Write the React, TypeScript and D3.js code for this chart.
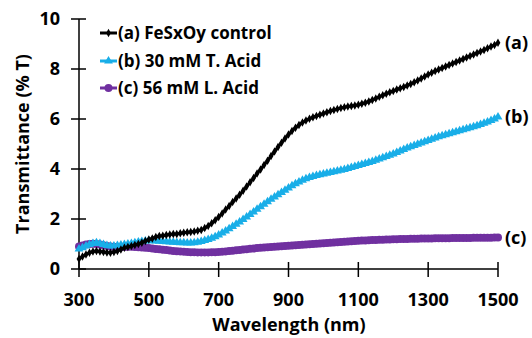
import * as d3 from 'd3'
import { useEffect, useRef } from 'react';

// wavelength (nm), 300..1500 every 10 nm
const wavelengths = d3.range(300, 1501, 10);

const controlA = [
  0.40, 0.50, 0.58, 0.65, 0.70, 0.72, 0.70, 0.68, 0.66, 0.65,
  0.68, 0.72, 0.78, 0.85, 0.88, 0.92, 0.96, 1.00, 1.05, 1.12,
  1.18, 1.22, 1.28, 1.32, 1.33, 1.36, 1.38, 1.40, 1.40, 1.43,
  1.45, 1.47, 1.48, 1.50, 1.53, 1.56, 1.64, 1.72, 1.83, 1.95,
  2.08, 2.22, 2.38, 2.52, 2.68, 2.82, 2.97, 3.13, 3.30, 3.47,
  3.64, 3.82, 3.98, 4.16, 4.33, 4.52, 4.70, 4.88, 5.05, 5.22,
  5.38, 5.52, 5.65, 5.76, 5.86, 5.94, 6.01, 6.07, 6.12, 6.17,
  6.22, 6.27, 6.32, 6.36, 6.40, 6.44, 6.47, 6.50, 6.52, 6.54,
  6.57, 6.61, 6.65, 6.70, 6.76, 6.82, 6.89, 6.95, 7.01, 7.07,
  7.12, 7.18, 7.23, 7.28, 7.34, 7.40, 7.47, 7.54, 7.62, 7.70,
  7.78, 7.85, 7.92, 7.98, 8.04, 8.10, 8.16, 8.22, 8.28, 8.34,
  8.40, 8.46, 8.52, 8.58, 8.64, 8.70, 8.76, 8.83, 8.90, 8.96,
  9.05
];

const tAcidB = [
  0.80, 0.85, 0.92, 0.98, 1.02, 1.05, 1.02, 0.98, 0.94, 0.92,
  0.92, 0.94, 0.96, 0.98, 1.00, 1.02, 1.05, 1.08, 1.10, 1.12,
  1.13, 1.13, 1.12, 1.11, 1.10, 1.09, 1.08, 1.07, 1.06, 1.05,
  1.05, 1.04, 1.04, 1.05, 1.07, 1.10, 1.14, 1.18, 1.23, 1.29,
  1.36, 1.44, 1.52, 1.61, 1.70, 1.79, 1.88, 1.98, 2.08, 2.18,
  2.28, 2.39, 2.49, 2.59, 2.69, 2.79, 2.88, 2.97, 3.06, 3.15,
  3.24, 3.33, 3.41, 3.48, 3.55, 3.61, 3.66, 3.70, 3.74, 3.77,
  3.80, 3.83, 3.86, 3.89, 3.92, 3.95, 3.98, 4.02, 4.06, 4.10,
  4.14, 4.18, 4.22, 4.26, 4.30, 4.35, 4.40, 4.45, 4.50, 4.55,
  4.60, 4.66, 4.72, 4.78, 4.84, 4.89, 4.94, 4.99, 5.04, 5.09,
  5.14, 5.19, 5.24, 5.29, 5.33, 5.37, 5.41, 5.45, 5.49, 5.53,
  5.57, 5.61, 5.65, 5.69, 5.73, 5.78, 5.83, 5.88, 5.94, 6.00,
  6.08
];

const lAcidC = [
  0.90, 0.94, 0.98, 1.00, 1.01, 1.00, 0.98, 0.95, 0.92, 0.90,
  0.89, 0.88, 0.88, 0.88, 0.89, 0.89, 0.88, 0.87, 0.86, 0.85,
  0.84, 0.82, 0.80, 0.79, 0.77, 0.76, 0.74, 0.72, 0.71, 0.70,
  0.69, 0.68, 0.67, 0.67, 0.66, 0.66, 0.66, 0.66, 0.67, 0.67,
  0.68, 0.69, 0.70, 0.72, 0.73, 0.75, 0.76, 0.78, 0.79, 0.81,
  0.82, 0.84, 0.85, 0.86, 0.87, 0.88, 0.89, 0.90, 0.91, 0.92,
  0.93, 0.94, 0.95, 0.96, 0.97, 0.98, 0.99, 1.00, 1.01, 1.02,
  1.03, 1.04, 1.05, 1.06, 1.07, 1.08, 1.09, 1.10, 1.11, 1.12,
  1.13, 1.14, 1.14, 1.15, 1.16, 1.16, 1.17, 1.17, 1.18, 1.18,
  1.19, 1.19, 1.20, 1.20, 1.20, 1.21, 1.21, 1.21, 1.22, 1.22,
  1.22, 1.22, 1.23, 1.23, 1.23, 1.23, 1.23, 1.24, 1.24, 1.24,
  1.24, 1.24, 1.24, 1.25, 1.25, 1.25, 1.25, 1.25, 1.25, 1.26,
  1.26
];

const xTicks = [300, 500, 700, 900, 1100, 1300, 1500];
const yTicks = [0, 2, 4, 6, 8, 10];

const series = [
  { name: "(a) FeSxOy control", tag: "(a)", values: controlA, color: "#000000", symbol: d3.symbolDiamond, size: 20 },
  { name: "(b) 30 mM T. Acid", tag: "(b)", values: tAcidB, color: "#19AEE8", symbol: d3.symbolTriangle, size: 34 },
  { name: "(c) 56 mM L. Acid", tag: "(c)", values: lAcidC, color: "#7030A0", symbol: d3.symbolCircle, size: 50 },
];

const FONT = "'Open Sans', sans-serif";

function drawChart(svgEl: SVGSVGElement) {
  const svg = d3.select(svgEl);
  svg.selectAll("*").remove();

  const x = d3.scaleLinear().domain([300, 1500]).range([79, 498]);
  const y = d3.scaleLinear().domain([0, 10]).range([269, 19]);

  // axes (ticks cross the axis line)
  svg.append("line").attr("x1", x(300)).attr("x2", x(1500))
    .attr("y1", y(0)).attr("y2", y(0))
    .attr("stroke", "#000").attr("stroke-width", 1.5);
  svg.append("line").attr("x1", x(300)).attr("x2", x(300))
    .attr("y1", y(0)).attr("y2", y(10))
    .attr("stroke", "#000").attr("stroke-width", 1.5);

  svg.selectAll(".xt").data(xTicks).enter().append("line")
    .attr("x1", d => x(d)).attr("x2", d => x(d))
    .attr("y1", y(0) - 7).attr("y2", y(0) + 8)
    .attr("stroke", "#000").attr("stroke-width", 1.5);
  svg.selectAll(".yt").data(yTicks).enter().append("line")
    .attr("x1", x(300) - 8).attr("x2", x(300) + 7)
    .attr("y1", d => y(d)).attr("y2", d => y(d))
    .attr("stroke", "#000").attr("stroke-width", 1.5);

  svg.selectAll(".xl").data(xTicks).enter().append("text")
    .attr("x", d => x(d)).attr("y", 306)
    .attr("text-anchor", "middle")
    .attr("font-family", FONT).attr("font-weight", "bold").attr("font-size", 18)
    .text(d => d);
  svg.selectAll(".yl").data(yTicks).enter().append("text")
    .attr("x", 60).attr("y", d => y(d) + 6)
    .attr("text-anchor", "end")
    .attr("font-family", FONT).attr("font-weight", "bold").attr("font-size", 18)
    .text(d => d);

  svg.append("text").attr("x", 289).attr("y", 331)
    .attr("text-anchor", "middle")
    .attr("font-family", FONT).attr("font-weight", "bold").attr("font-size", 18)
    .text("Wavelength (nm)");
  svg.append("text")
    .attr("transform", "translate(29,144) rotate(-90)")
    .attr("text-anchor", "middle")
    .attr("font-family", FONT).attr("font-weight", "bold").attr("font-size", 18)
    .text("Transmittance (% T)");

  const line = d3.line<number>()
    .x((d, i) => x(wavelengths[i]))
    .y(d => y(d));

  // draw c first, then b, then a on top
  series.slice().reverse().forEach(s => {
    const g = svg.append("g");
    g.append("path").datum(s.values)
      .attr("d", line)
      .attr("fill", "none").attr("stroke", s.color).attr("stroke-width", 3);
    g.selectAll("path.m").data(s.values).enter().append("path")
      .attr("class", "m")
      .attr("transform", (d, i) => "translate(" + x(wavelengths[i]) + "," + y(d) + ")")
      .attr("d", d3.symbol().type(s.symbol).size(s.size)())
      .attr("fill", s.color);
  });

  // legend
  const legendY = [33, 61, 88];
  series.forEach((s, i) => {
    const g = svg.append("g").attr("transform", "translate(0," + legendY[i] + ")");
    g.append("line").attr("x1", 100).attr("x2", 117).attr("y1", 0).attr("y2", 0)
      .attr("stroke", s.color).attr("stroke-width", 3);
    g.append("path").attr("transform", "translate(108.5,0)")
      .attr("d", d3.symbol().type(s.symbol).size(s.size)())
      .attr("fill", s.color);
    g.append("text").attr("x", 118).attr("y", 6)
      .attr("font-family", FONT).attr("font-weight", "bold").attr("font-size", 17)
      .text(s.name);
  });

  // end tags
  series.forEach(s => {
    const last = s.values[s.values.length - 1];
    svg.append("text").attr("x", 505).attr("y", y(last) + 6)
      .attr("font-family", FONT).attr("font-weight", "bold").attr("font-size", 18)
      .text(s.tag);
  });
}

function App() {
  const ref = useRef<SVGSVGElement>(null);
  useEffect(() => {
    if (ref.current) drawChart(ref.current);
  });

  return (
    <svg ref={ref} width="532" height="338"
      style={{ position: "absolute", left: 0, top: 0, background: "#fff" }}>
    </svg>
  );
}

export default App;
